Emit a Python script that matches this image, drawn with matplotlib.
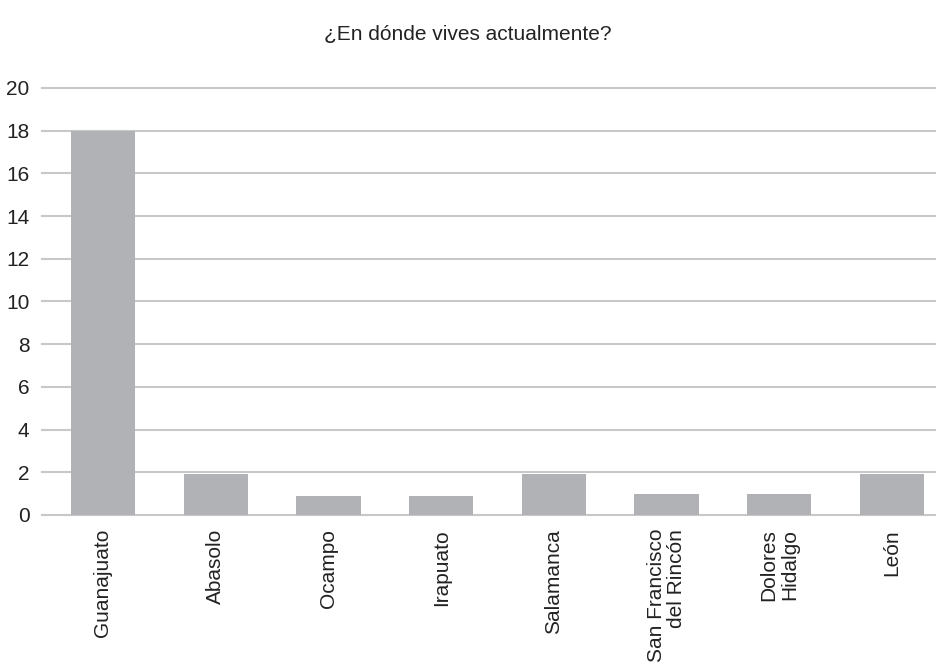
import numpy as np
import matplotlib.pyplot as plt

plt.rcParams['font.family'] = ['Liberation Sans', 'DejaVu Sans']

# datos
ciudades = ['Guanajuato', 'Abasolo', 'Ocampo', 'Irapuato', 'Salamanca',
            'San Francisco\ndel Rincón', 'Dolores\nHidalgo', 'León']
respuestas = [18, 1.9, 0.9, 0.9, 1.9, 1.0, 1.0, 1.9]
yticks = [0, 2, 4, 6, 8, 10, 12, 14, 16, 18, 20]

fig = plt.figure(figsize=(9.36, 6.69), dpi=100)
ax = fig.add_axes([0.045, 0.2302, 0.955, 0.6383])

x = np.arange(len(ciudades))
ax.bar(x, respuestas, width=0.57, color='#b1b2b6', zorder=2)

ax.set_ylim(0, 20)
ax.set_xlim(-0.54, len(ciudades) - 0.61)
ax.set_yticks(yticks)
ax.yaxis.grid(True, color='#c8c8c8', linewidth=1.5, zorder=1)
for g in ax.get_ygridlines():
    g.set_clip_on(False)
ax.set_axisbelow(True)
for s in ax.spines.values():
    s.set_visible(False)

ax.set_xticks(x)
ax.set_xticklabels(ciudades, rotation=90, va='top', ha='center',
                   multialignment='right', fontsize=15, color='#222222',
                   linespacing=1.1)
ax.tick_params(axis='x', length=0, pad=10)
ax.tick_params(axis='y', length=0, pad=9, labelsize=15, labelcolor='#222222')

fig.suptitle('¿En dónde vives actualmente?', y=0.962, fontsize=15,
             color='#222222')

fig.savefig('out.png', dpi=100)
